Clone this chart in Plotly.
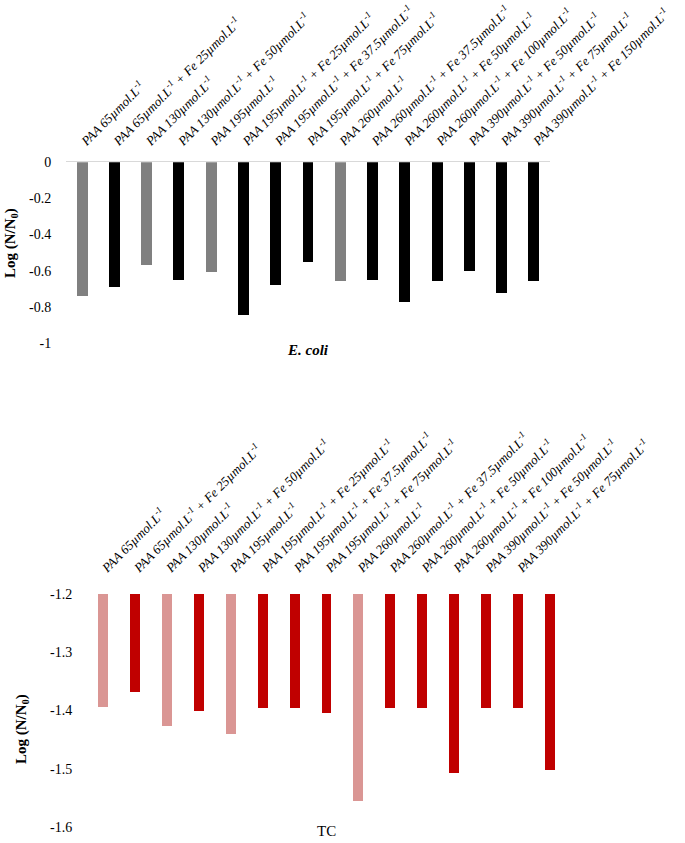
import plotly.graph_objects as go

categories = [
    "PAA 65µmol.L<sup>-1</sup>",
    "PAA 65µmol.L<sup>-1</sup> + Fe 25µmol.L<sup>-1</sup>",
    "PAA 130µmol.L<sup>-1</sup>",
    "PAA 130µmol.L<sup>-1</sup> + Fe 50µmol.L<sup>-1</sup>",
    "PAA 195µmol.L<sup>-1</sup>",
    "PAA 195µmol.L<sup>-1</sup> + Fe 25µmol.L<sup>-1</sup>",
    "PAA 195µmol.L<sup>-1</sup> + Fe 37.5µmol.L<sup>-1</sup>",
    "PAA 195µmol.L<sup>-1</sup> + Fe 75µmol.L<sup>-1</sup>",
    "PAA 260µmol.L<sup>-1</sup>",
    "PAA 260µmol.L<sup>-1</sup> + Fe 37.5µmol.L<sup>-1</sup>",
    "PAA 260µmol.L<sup>-1</sup> + Fe 50µmol.L<sup>-1</sup>",
    "PAA 260µmol.L<sup>-1</sup> + Fe 100µmol.L<sup>-1</sup>",
    "PAA 390µmol.L<sup>-1</sup> + Fe 50µmol.L<sup>-1</sup>",
    "PAA 390µmol.L<sup>-1</sup> + Fe 75µmol.L<sup>-1</sup>",
    "PAA 390µmol.L<sup>-1</sup> + Fe 150µmol.L<sup>-1</sup>",
]
paa_only = [True, False, True, False, True, False, False, False, True, False, False, False, False, False, False]

ecoli_values = [-0.744, -0.694, -0.568, -0.655, -0.609, -0.849, -0.679, -0.555,
                -0.657, -0.655, -0.775, -0.659, -0.601, -0.725, -0.659]
tc_values = [-1.394, -1.369, -1.427, -1.401, -1.441, -1.396, -1.396, -1.405,
             -1.556, -1.396, -1.396, -1.507, -1.396, -1.396, -1.502]

ecoli_ticks = [0, -0.2, -0.4, -0.6, -0.8, -1]
ecoli_ticktext = ["0", "-0.2", "-0.4", "-0.6", "-0.8", "-1"]
tc_ticks = [-1.2, -1.3, -1.4, -1.5, -1.6]
tc_ticktext = ["-1.2", "-1.3", "-1.4", "-1.5", "-1.6"]
tc_base = -1.2

FONT = "Liberation Serif, Times New Roman, serif"
W, H = 685, 843

ecoli_colors = ["#808080" if p else "#000000" for p in paa_only]
tc_colors = ["#DA9694" if p else "#C00000" for p in paa_only]

xcat = list(range(len(categories)))

fig = go.Figure()
fig.add_trace(go.Bar(x=xcat, y=ecoli_values, marker=dict(color=ecoli_colors, line=dict(width=0)),
                     width=0.34, xaxis="x", yaxis="y", showlegend=False))
fig.add_trace(go.Bar(x=xcat, y=[v - tc_base for v in tc_values], base=tc_base,
                     marker=dict(color=tc_colors, line=dict(width=0)),
                     width=0.31, xaxis="x2", yaxis="y2", showlegend=False))

def px_x(p):
    return p / W

def px_y(p):
    return 1 - p / H

common_x = dict(
    type="linear", side="top", tickmode="array", tickvals=xcat, ticktext=categories,
    tickangle=-45, tickfont=dict(family=FONT, size=13, color="#000000", style="italic"),
    range=[-0.5, len(categories) - 0.5], showgrid=False, zeroline=False,
    ticks="outside", ticklen=8, tickcolor="rgba(0,0,0,0)",
    automargin=False,
)
common_y = dict(
    tickmode="array", showgrid=False, zeroline=False, showline=False,
    ticks="outside", ticklen=11, tickcolor="rgba(0,0,0,0)",
    tickfont=dict(family=FONT, size=14, color="#000000"), automargin=False,
)

def title_ann(text, x, y, angle=0, yanchor="middle"):
    return dict(text=text, xref="paper", yref="paper", x=px_x(x), y=px_y(y),
                xanchor="center", yanchor=yanchor, textangle=angle, showarrow=False,
                font=dict(family=FONT, size=15, color="#000000"))

fig.update_layout(
    width=W, height=H, template="none",
    paper_bgcolor="white", plot_bgcolor="white",
    margin=dict(l=0, r=0, t=0, b=0),
    bargap=0,
    xaxis=dict(common_x, domain=[px_x(66), px_x(550)], anchor="y",
               showline=True, linecolor="#D9D9D9", linewidth=1),
    yaxis=dict(common_y, domain=[px_y(343), px_y(162.3)], anchor="x", range=[-1, 0],
               tickvals=ecoli_ticks, ticktext=ecoli_ticktext),
    xaxis2=dict(common_x, domain=[px_x(87), px_x(566)], anchor="y2", showline=False,
                ticklen=13),
    yaxis2=dict(common_y, domain=[px_y(827), px_y(594)], anchor="x2", range=[-1.6, -1.2],
                tickvals=tc_ticks, ticktext=tc_ticktext),
    annotations=[
        title_ann("<b>Log (N/N<sub>0</sub>)</b>", 11, 243, -90),
        title_ann("<b>Log (N/N<sub>0</sub>)</b>", 22, 729, -90),
        title_ann("<b><i>E. coli</i></b>", 308, 350),
        title_ann("TC", 326, 841, yanchor="bottom"),
    ],
)

fig.write_html("out.html", config={"displayModeBar": False},
               post_script="document.body.style.margin='0px';")
